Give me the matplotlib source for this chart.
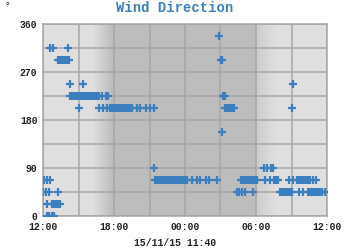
import numpy as np
import matplotlib
matplotlib.use("Agg")
import matplotlib.pyplot as plt

# ---- data: hours after 15/11 12:00 for each compass direction ----
N_0 = [0.30, 0.50, 0.75, 0.95]
NNE_22 = [0.36, 0.74, 0.93, 1.10, 1.27, 1.44]
NE_45 = [0.00, 0.25, 0.50, 1.27, 16.37, 16.56, 16.82, 17.07, 17.77,
         20.00, 20.15, 20.30, 20.45, 20.60, 20.75, 20.90, 21.00, 21.60, 21.97,
         22.40, 22.55, 22.70, 22.85, 23.00, 23.15, 23.30, 23.45, 23.60, 23.80]
ENE_67 = [0.08, 0.34, 0.59,
          9.50, 9.65, 9.80, 9.95, 10.10, 10.25, 10.40, 10.55, 10.70, 10.85,
          11.00, 11.15, 11.30, 11.45, 11.60, 11.75, 11.90, 12.05, 12.15,
          12.57, 12.99, 13.25, 13.80, 14.05, 14.73,
          16.75, 16.90, 17.05, 17.20, 17.35, 17.50, 17.65, 17.80, 17.95, 18.10,
          18.76, 19.20, 19.50, 19.70, 19.85,
          20.79, 21.13, 21.50, 21.65, 21.80, 21.95, 22.10, 22.25, 22.40, 22.55,
          22.80, 23.07]
E_90 = [9.40, 18.70, 18.90, 19.25, 19.45]
SSE_157 = [15.10]
SSW_202 = [3.00, 4.73, 5.10, 5.38,
           5.70, 5.85, 6.00, 6.15, 6.30, 6.45, 6.60, 6.75, 6.90, 7.05, 7.20, 7.35, 7.50,
           7.92, 8.20, 8.68, 9.04, 9.38,
           15.40, 15.55, 15.70, 15.85, 16.00, 16.15, 21.07]
SW_225 = [2.28, 2.43, 2.58, 2.73, 2.88, 3.03, 3.18, 3.33, 3.48, 3.63, 3.78, 3.93,
          4.08, 4.23, 4.38, 4.53, 4.70, 4.96, 5.32, 5.50, 15.25, 15.40]
WSW_247 = [2.28, 3.40, 21.16]
WNW_292 = [1.27, 1.42, 1.57, 1.72, 1.87, 2.02, 2.20, 15.05, 15.15]
NW_315 = [0.60, 0.85, 2.10]
NNW_337 = [14.90]

series = [(0.0, N_0), (22.5, NNE_22), (45.0, NE_45), (67.5, ENE_67), (90.0, E_90),
          (157.5, SSE_157), (202.5, SSW_202), (225.0, SW_225), (247.5, WSW_247),
          (292.5, WNW_292), (315.0, NW_315), (337.5, NNW_337)]

x_ticks = [0, 6, 12, 18, 24]
x_labels = ["12:00", "18:00", "00:00", "06:00", "12:00"]
y_ticks = [0, 90, 180, 270, 360]

# night shading knots (hours after 12:00, grey level)
night_h = [0.0, 4.2, 5.8, 18.0, 18.01, 19.7, 24.0]
night_v = [0.878, 0.878, 0.745, 0.745, 0.80, 0.878, 0.878]

mono = "Liberation Mono"
blue = "#3c7fbf"
gridc = "#a6a6a6"

fig = plt.figure(figsize=(3.5, 2.5), dpi=100)
ax = fig.add_axes([43 / 350, 34 / 250, 284 / 350, 192 / 250])

xs = np.linspace(0, 24, 600)
shade = np.interp(xs, night_h, night_v)
img = np.repeat(shade[None, :, None], 3, axis=2)
ax.imshow(img, extent=[0, 24, 0, 360], aspect="auto", zorder=0,
          interpolation="bilinear")

for deg, times in series:
    ax.plot(times, [deg] * len(times), linestyle="none", marker="+",
            markersize=5.5, markeredgewidth=1.6, color=blue, zorder=3)

ax.set_xlim(0, 24)
ax.set_ylim(0, 360)
ax.set_xticks(x_ticks)
ax.set_xticklabels(x_labels)
ax.set_xticks(np.arange(0, 25, 3), minor=True)
ax.set_yticks(y_ticks)
ax.set_yticks(np.arange(0, 361, 45), minor=True)
ax.grid(True, which="both", color=gridc, linewidth=1.1, zorder=1)
ax.set_axisbelow(False)
ax.tick_params(which="both", length=0)
ax.tick_params(axis="x", pad=4)
ax.tick_params(axis="y", pad=4)
for lab in ax.get_xticklabels() + ax.get_yticklabels():
    lab.set_fontfamily(mono)
    lab.set_fontweight("bold")
    lab.set_fontsize(7)
    lab.set_color("#222222")
for sp in ax.spines.values():
    sp.set_color(gridc)
    sp.set_linewidth(1.1)

fig.text(175 / 350, 1 - 8 / 250, "Wind Direction", ha="center", va="center",
         fontfamily=mono, fontweight="bold", fontsize=10, color=blue)
fig.text(7 / 350, 1 - 6 / 250, "°", ha="center", va="center",
         fontfamily=mono, fontsize=7, color="#222222")
fig.text(175 / 350, 1 - 243 / 250, "15/11/15 11:40", ha="center", va="center",
         fontfamily=mono, fontweight="bold", fontsize=7, color="#222222")

fig.savefig("out.png", dpi=100)
